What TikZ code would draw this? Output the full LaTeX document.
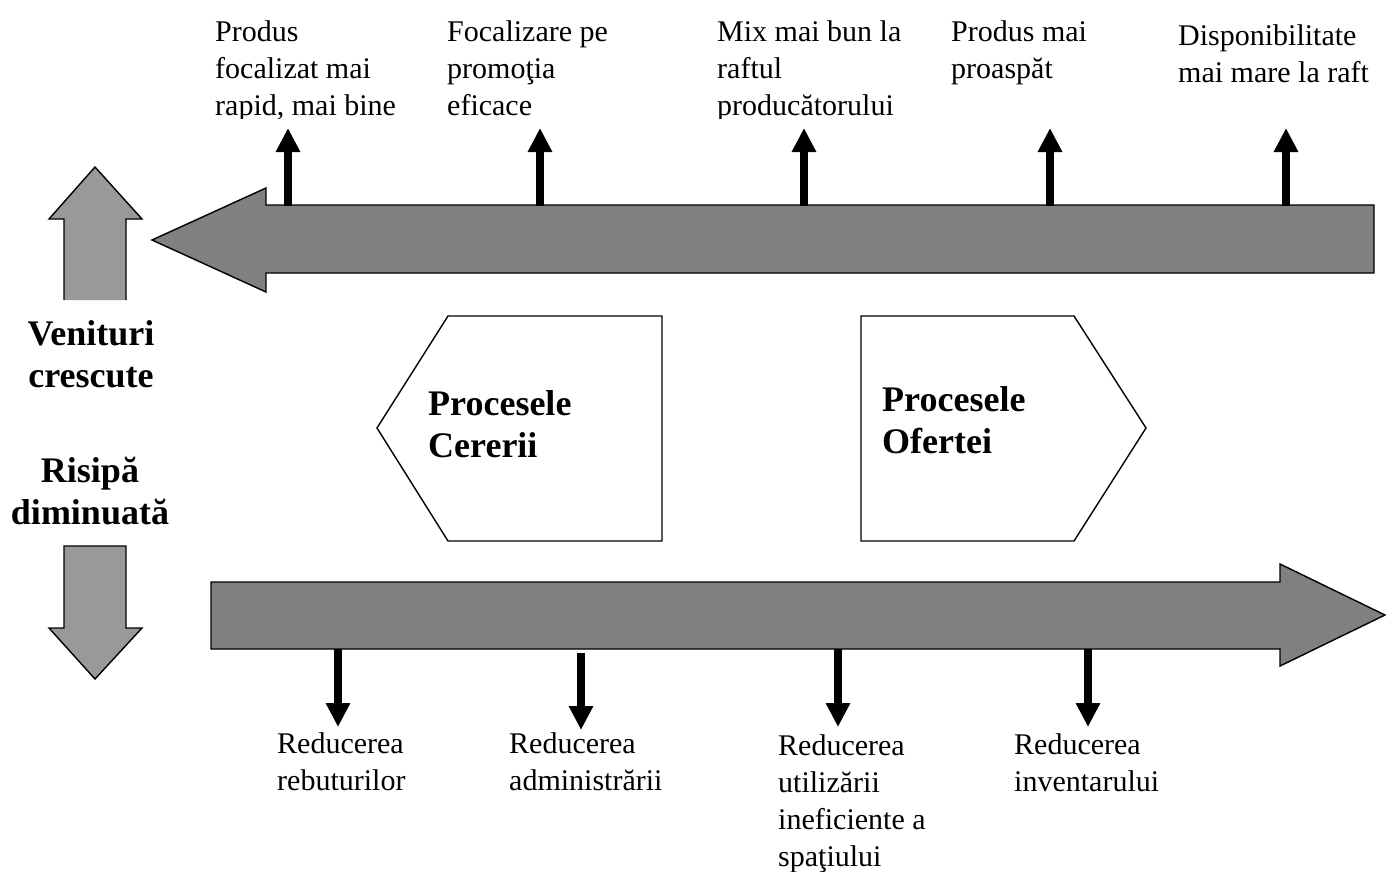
\documentclass[tikz,border=0pt]{standalone}
\usepackage{fontspec}
\setmainfont{Liberation Serif}
\usetikzlibrary{arrows.meta}
\definecolor{bandgray}{RGB}{128,128,128}
\definecolor{sidegray}{RGB}{153,153,153}
\tikzset{
  band/.style={fill=bandgray, draw=black, line width=1.4pt, line join=miter},
  sidearrow/.style={fill=sidegray, draw=black, line width=1.4pt, line join=miter},
  process/.style={fill=white, draw=black, line width=1.4pt, line join=miter},
  thinarrow/.style={line width=7.5pt, -{Triangle[width=23pt,length=24pt]}},
  label/.style={anchor=north west, inner sep=0pt, align=left, font=\fontsize{30}{37}\selectfont},
  boldlabel/.style={anchor=north, inner sep=0pt, align=center, font=\fontsize{36}{42}\selectfont\bfseries},
  proclabel/.style={anchor=north west, inner sep=0pt, align=left, font=\fontsize{36}{42}\selectfont\bfseries}
}
\begin{document}
\begin{tikzpicture}[x=1pt, y=-1pt]
\useasboundingbox (0,0) rectangle (1386,871);

% upper band: arrow pointing left
\draw[band] (1374,205) -- (266,205) -- (266,188) -- (152,240) -- (266,292)
  -- (266,273) -- (1374,273) -- cycle;

% lower band: arrow pointing right
\draw[band] (211,582) -- (1280,582) -- (1280,564) -- (1385,615) -- (1280,666)
  -- (1280,649) -- (211,649) -- cycle;

% small side arrows
\fill[sidegray] (64,300) -- (64,219) -- (49,219) -- (95,167) -- (142,219) -- (126,219) -- (126,300) -- cycle;
\draw[black, line width=1.4pt, line join=miter] (64,300) -- (64,219) -- (49,219) -- (95,167) -- (142,219) -- (126,219) -- (126,300);
\draw[sidearrow] (64,546) -- (126,546) -- (126,628) -- (142,628) -- (95,679) -- (49,628) -- (64,628) -- cycle;

% process shapes
\draw[process] (448,316) -- (662,316) -- (662,541) -- (448,541) -- (377,428) -- cycle;
\draw[process] (861,316) -- (1074,316) -- (1146,428) -- (1074,541) -- (861,541) -- cycle;
\node[proclabel] (cerere) at (428,415-29.4) {\strut Procesele\\Cererii};
\node[proclabel] (oferta) at (882,411-29.4) {\strut Procesele\\Ofertei};

% side labels
\node[boldlabel] (venit) at (91,345-29.4) {\strut Venituri\\crescute};
\node[boldlabel] (risipa) at (90,482-29.4) {\strut Risipă\\diminuată};

% benefits on the upper band
\begin{scope}
\clip (0,0) rectangle (1386,118);
\node[label] (t1) at (215,41-25.9) {\strut Produs\\focalizat mai\\rapid, mai bine};
\node[label] (t2) at (447,41-25.9) {\strut Focalizare pe\\promoţia\\eficace};
\node[label] (t3) at (717,41-25.9) {\strut Mix mai bun la\\raftul\\producătorului};
\node[label] (t4) at (951,41-25.9) {\strut Produs mai\\proaspăt};
\node[label] (t5) at (1178,45-25.9) {\strut Disponibilitate\\mai mare la raft};
\end{scope}

\foreach \i/\x in {1/288, 2/540, 3/804, 4/1050, 5/1286} {
  \coordinate (ua\i) at (\x,206);
  \coordinate (ub\i) at (\x,128);
  \draw[thinarrow] (ua\i) -- (ub\i);
}

% reductions on the lower band
\node[label] (b1) at (277,753-25.9) {\strut Reducerea\\rebuturilor};
\node[label] (b2) at (509,753-25.9) {\strut Reducerea\\administrării};
\node[label] (b3) at (778,755-25.9) {\strut Reducerea\\utilizării\\ineficiente a\\spaţiului};
\node[label] (b4) at (1014,754-25.9) {\strut Reducerea\\inventarului};

\foreach \i/\x/\s/\e in {1/338/649/727, 2/581/653/730, 3/838/649/727, 4/1088/649/727} {
  \coordinate (da\i) at (\x,\s);
  \coordinate (db\i) at (\x,\e);
  \draw[thinarrow] (da\i) -- (db\i);
}
\end{tikzpicture}
\end{document}
